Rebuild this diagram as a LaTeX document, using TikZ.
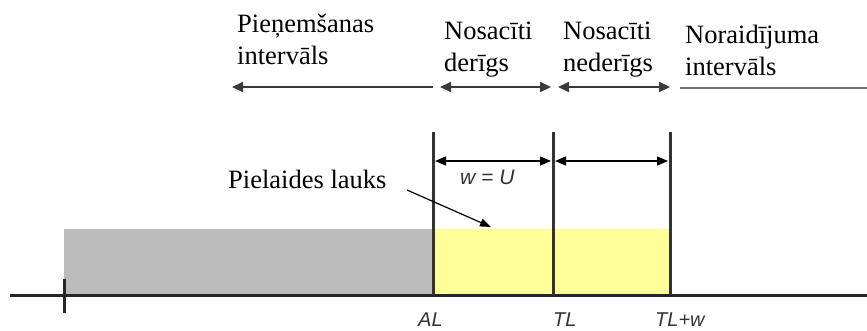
\documentclass[tikz,border=0pt]{standalone}
\usepackage{fontspec}
\setmainfont{Liberation Serif}
\setsansfont{Liberation Sans}
\usetikzlibrary{arrows.meta}
\definecolor{boxgray}{HTML}{BBBBBB}
\definecolor{boxyellow}{HTML}{FFFF99}
\definecolor{linedark}{HTML}{333333}
\definecolor{arrowgray}{HTML}{3A3A3A}
\begin{document}
\begin{tikzpicture}[x=1pt,y=-1pt,
  serlabel/.style={font=\fontsize{26.5}{32}\selectfont, inner sep=0pt, align=left, anchor=north west},
  sanslabel/.style={font=\sffamily\itshape\fontsize{20}{24}\selectfont, inner sep=0pt, anchor=base west, text=linedark},
  axisline/.style={line width=3pt, black!85},
  limitline/.style={line width=3pt, linedark},
  toparrow/.style={line width=2.2pt, arrowgray, arrows={-Triangle[length=11pt,width=10pt]}},
  topboth/.style={line width=2.2pt, arrowgray, arrows={Triangle[length=11pt,width=10pt]-Triangle[length=11pt,width=10pt]}},
  dimarrow/.style={line width=1.4pt, black, arrows={Triangle[length=11pt,width=9pt]-Triangle[length=11pt,width=9pt]}},
  pointer/.style={line width=1.2pt, black, arrows={-Triangle[length=11pt,width=8pt]}}
]
\useasboundingbox (0,0) rectangle (867,330);
% filled regions
\fill[boxgray] (64,229) rectangle (433,295);
\fill[boxyellow] (433,229) rectangle (670,295);
% axis
\coordinate (axL) at (10,295);
\coordinate (axR) at (867,295);
\draw[axisline] (axL) -- (axR);
\coordinate (tickT) at (64,279);
\coordinate (tickB) at (64,313);
\draw[axisline] (tickT) -- (tickB);
% limit lines
\coordinate (alT) at (433,132); \coordinate (alB) at (433,295);
\coordinate (tlT) at (553,132); \coordinate (tlB) at (553,295);
\coordinate (twT) at (670,132); \coordinate (twB) at (670,295);
\draw[limitline] (alT) -- (alB);
\draw[limitline] (tlT) -- (tlB);
\draw[limitline] (twT) -- (twB);
% dimension arrows
\coordinate (d1a) at (435,161); \coordinate (d1b) at (551,161);
\coordinate (d2a) at (555,161); \coordinate (d2b) at (668,161);
\draw[dimarrow] (d1a) -- (d1b);
\draw[dimarrow] (d2a) -- (d2b);
% top arrows
\coordinate (t0a) at (433,87); \coordinate (t0b) at (232,87);
\coordinate (t1a) at (440,87); \coordinate (t1b) at (551,87);
\coordinate (t2a) at (558,87); \coordinate (t2b) at (670,87);
\coordinate (t3a) at (680,88); \coordinate (t3b) at (867,88);
\draw[toparrow] (t0a) -- (t0b);
\draw[topboth] (t1a) -- (t1b);
\draw[topboth] (t2a) -- (t2b);
\draw[line width=2.2pt, black!55] (t3a) -- (t3b);
% top labels
\node[serlabel] (pien) at (237,14) {Pieņemšanas\\intervāls};
\node[serlabel] (nder) at (444,22) {Nosacīti\\derīgs};
\node[serlabel] (nned) at (563,22) {Nosacīti\\nederīgs};
\node[serlabel] (nora) at (685,25) {Noraidījuma\\intervāls};
% tolerance field label and pointer
\node[font=\fontsize{26.5}{32}\selectfont, inner sep=0pt, anchor=base west] (piel) at (228,188) {Pielaides lauks};
\coordinate (ptA) at (407,190);
\coordinate (ptB) at (491,227);
\draw[pointer] (ptA) -- (ptB);
% w = U
\node[sanslabel, font=\sffamily\itshape\fontsize{21}{24}\selectfont] (wu) at (460,184) {w = U};
% axis labels
\node[sanslabel] (al) at (418,326) {AL};
\node[sanslabel] (tl) at (553,326) {TL};
\node[sanslabel] (tlw) at (655,326) {TL+w};
\end{tikzpicture}
\end{document}
